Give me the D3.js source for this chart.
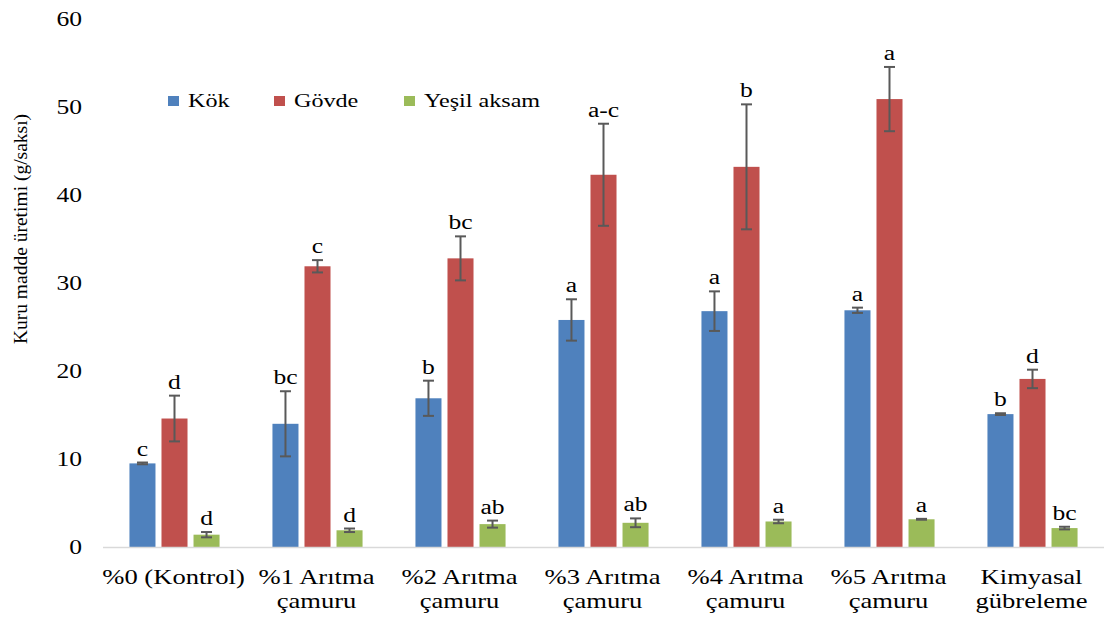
<!DOCTYPE html>
<html>
<head>
<meta charset="utf-8">
<script src="https://cdn.jsdelivr.net/npm/d3@7"></script>
<style>
  body { margin: 0; background: #fff; }
  text { font-family: "Liberation Serif", "Times New Roman", serif; fill: #000; }
</style>
</head>
<body>
<svg id="chart" width="1105" height="617"></svg>
<script>
// categories (each entry = label lines)
var categories = [
    ["%0 (Kontrol)"],
    ["%1 Arıtma", "çamuru"],
    ["%2 Arıtma", "çamuru"],
    ["%3 Arıtma", "çamuru"],
    ["%4 Arıtma", "çamuru"],
    ["%5 Arıtma", "çamuru"],
    ["Kimyasal", "gübreleme"]
];
var seriesNames = ["Kök", "Gövde", "Yeşil aksam"];

// series values and standard errors
var kok = [9.5, 14.0, 16.9, 25.8, 26.8, 26.9, 15.1];
var kokErr = [0.1, 3.7, 2.0, 2.35, 2.25, 0.3, 0.1];
var govde = [14.6, 31.9, 32.8, 42.3, 43.2, 50.9, 19.1];
var govdeErr = [2.6, 0.7, 2.5, 5.8, 7.1, 3.65, 1.05];
var yesil = [1.4, 1.9, 2.6, 2.75, 2.9, 3.15, 2.15];
var yesilErr = [0.3, 0.2, 0.4, 0.5, 0.2, 0.05, 0.15];

// significance letters
var kokLetters = ["c", "bc", "b", "a", "a", "a", "b"];
var govdeLetters = ["d", "c", "bc", "a-c", "b", "a", "d"];
var yesilLetters = ["d", "d", "ab", "ab", "a", "a", "bc"];

var yTicks = [0, 10, 20, 30, 40, 50, 60];

var colors = ["#4F81BD", "#C0504D", "#9BBB59"];
var stretch = 1.28; // text in the picture is horizontally widened

// build rows for drawing
var values = [kok, govde, yesil];
var errors = [kokErr, govdeErr, yesilErr];
var letters = [kokLetters, govdeLetters, yesilLetters];
var rows = [];
categories.forEach(function(c, i) {
    seriesNames.forEach(function(s, j) {
        rows.push({cat: i, series: s, si: j, value: values[j][i], err: errors[j][i], letter: letters[j][i]});
    });
});

var svg = d3.select("#chart");

// scales
var x0 = d3.scaleBand()
    .domain(d3.range(categories.length))
    .range([103, 1104])
    .padding(0);
var x1 = d3.scaleBand()
    .domain(seriesNames)
    .range([x0.bandwidth() * 0.185, x0.bandwidth() * 0.815])
    .paddingInner(0.1875)
    .paddingOuter(0);
var y = d3.scaleLinear()
    .domain([0, 60])
    .range([547, 19]);

// y tick labels (no axis line in the original)
svg.append("g")
    .selectAll("text")
    .data(yTicks)
    .enter().append("text")
    .attr("transform", function(d) { return "translate(82," + y(d) + ") scale(" + stretch + ",1)"; })
    .attr("dy", "0.33em")
    .style("text-anchor", "end")
    .style("font-size", "20px")
    .text(function(d) { return d; });

// y axis title
svg.append("text")
    .attr("transform", "translate(27,229) rotate(-90)")
    .style("text-anchor", "middle")
    .style("font-size", "19.5px")
    .text("Kuru madde üretimi (g/saksı)");

// bars
var groups = svg.append("g")
    .selectAll("g")
    .data(rows)
    .enter().append("g")
    .attr("transform", function(d) { return "translate(" + (x0(d.cat) + x1(d.series)) + ",0)"; });

groups.append("rect")
    .attr("x", 0)
    .attr("y", function(d) { return y(d.value); })
    .attr("width", x1.bandwidth())
    .attr("height", function(d) { return y(0) - y(d.value); })
    .attr("fill", function(d) { return colors[d.si]; });

// error bars
var cx = x1.bandwidth() / 2;
var cap = 5.5;
groups.append("line")
    .attr("x1", cx).attr("x2", cx)
    .attr("y1", function(d) { return y(d.value + d.err); })
    .attr("y2", function(d) { return y(d.value - d.err); })
    .attr("stroke", "#595959")
    .attr("stroke-width", 2);
groups.append("line")
    .attr("x1", cx - cap).attr("x2", cx + cap)
    .attr("y1", function(d) { return y(d.value + d.err); })
    .attr("y2", function(d) { return y(d.value + d.err); })
    .attr("stroke", "#595959")
    .attr("stroke-width", 2);
groups.append("line")
    .attr("x1", cx - cap).attr("x2", cx + cap)
    .attr("y1", function(d) { return y(d.value - d.err); })
    .attr("y2", function(d) { return y(d.value - d.err); })
    .attr("stroke", "#595959")
    .attr("stroke-width", 2);

// letters above bars
groups.append("text")
    .attr("transform", function(d) { return "translate(" + cx + "," + (y(d.value + d.err) - 7) + ") scale(" + stretch + ",1)"; })
    .style("text-anchor", "middle")
    .style("font-size", "20px")
    .text(function(d) { return d.letter; });

// x axis line
svg.append("line")
    .attr("x1", 103).attr("x2", 1104)
    .attr("y1", y(0) + 0.5).attr("y2", y(0) + 0.5)
    .attr("stroke", "#d9d9d9")
    .attr("stroke-width", 1.5);

// category labels
var catLabels = svg.append("g")
    .selectAll("g")
    .data(categories)
    .enter().append("g");
catLabels.each(function(lines, i) {
    var g = d3.select(this);
    lines.forEach(function(line, k) {
        g.append("text")
            .attr("transform", "translate(" + (x0(i) + x0.bandwidth() / 2 - 1) + "," + (584 + k * 24) + ") scale(1.33,1)")
            .style("text-anchor", "middle")
            .style("font-size", "20px")
            .text(line);
    });
});

// legend
var legendX = [168, 274, 404];
var legend = svg.append("g")
    .selectAll("g")
    .data(seriesNames)
    .enter().append("g")
    .attr("class", "legend")
    .attr("transform", function(d, i) { return "translate(" + legendX[i] + ",96)"; });

legend.append("rect")
    .attr("width", 11)
    .attr("height", 10)
    .attr("fill", function(d, i) { return colors[i]; });

legend.append("text")
    .attr("transform", "translate(20,11) scale(1.27,1)")
    .style("font-size", "19px")
    .text(function(d) { return d; });
</script>
</body>
</html>
